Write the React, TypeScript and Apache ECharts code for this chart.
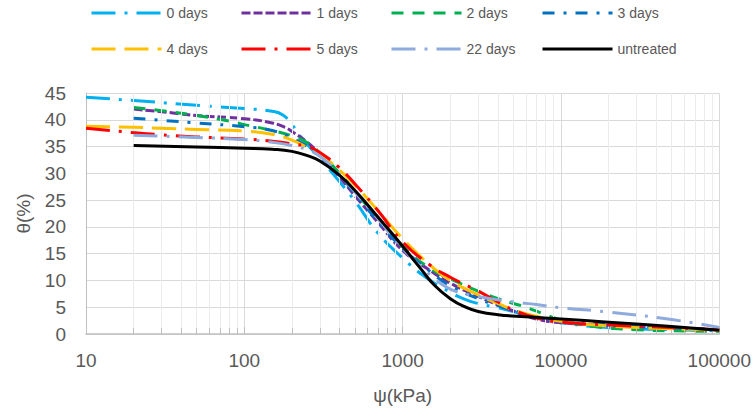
import React, { useEffect, useRef } from "react";
import * as echarts from "echarts";

// ---- data ----
const seriesNames = ["0 days", "1 days", "2 days", "3 days", "4 days", "5 days", "22 days", "untreated"];
const seriesColors = ["#00B0F0", "#7030A0", "#00B050", "#0070C0", "#FFC000", "#FF0000", "#8FAADC", "#000000"];

const psi0 = [10, 20, 50, 100, 150, 175, 200, 230, 300, 400, 500, 700, 1000, 1400, 2000, 2500, 3000, 4000, 5000, 7000, 10000, 20000, 50000, 100000];
const theta0 = [44.2, 43.6, 42.7, 42.1, 41.6, 40.9, 39.1, 36.6, 32.8, 28.4, 24.8, 18.8, 14.2, 10.6, 7.8, 6.4, 5.7, 4.9, 4.2, 3.1, 2.1, 1.2, 0.8, 0.6];

const psi1 = [20, 30, 50, 100, 150, 180, 200, 250, 300, 400, 500, 700, 1000, 1500, 2000, 3000, 5000, 7000, 10000, 20000, 50000, 100000];
const theta1 = [42.0, 41.5, 40.8, 40.2, 39.4, 38.6, 37.8, 35.8, 33.5, 29.3, 25.8, 20.8, 15.6, 11.8, 9.5, 7.0, 4.3, 2.8, 2.1, 1.6, 1.1, 0.8];

const psi2 = [20, 30, 50, 70, 100, 150, 200, 250, 300, 400, 500, 700, 1000, 1500, 2000, 3000, 4000, 5000, 6000, 8000, 10000, 15000, 30000, 50000, 100000];
const theta2 = [42.3, 41.7, 40.8, 40.1, 39.1, 38.0, 37.0, 35.7, 33.8, 30.0, 26.6, 21.5, 16.3, 12.2, 10.3, 8.0, 6.6, 5.7, 5.0, 3.6, 2.6, 1.5, 0.8, 0.6, 0.5];

const psi3 = [20, 30, 50, 100, 150, 200, 250, 300, 400, 500, 700, 1000, 1500, 2000, 3000, 4000, 5000, 7000, 10000, 20000, 50000, 100000];
const theta3 = [40.3, 39.9, 39.4, 38.7, 38.0, 36.6, 35.0, 33.3, 29.6, 26.2, 21.0, 16.0, 11.6, 9.0, 6.6, 5.3, 4.4, 3.2, 2.4, 1.8, 1.2, 0.9];

const psi4 = [10, 20, 30, 50, 100, 150, 200, 250, 300, 400, 500, 700, 1000, 1500, 2000, 3000, 4000, 5000, 7000, 10000, 20000, 50000, 100000];
const theta4 = [38.8, 38.6, 38.4, 38.2, 37.9, 37.3, 36.2, 34.8, 33.5, 30.6, 27.8, 23.0, 17.8, 12.8, 10.0, 7.3, 5.7, 4.5, 3.3, 2.4, 1.5, 1.0, 0.7];

const psi5 = [10, 20, 30, 50, 100, 150, 200, 250, 300, 400, 500, 700, 1000, 1500, 2000, 3000, 4000, 5000, 7000, 10000, 20000, 50000, 100000];
const theta5 = [38.4, 37.6, 37.2, 36.8, 36.4, 36.0, 35.5, 35.0, 33.9, 31.0, 28.0, 23.0, 17.2, 12.8, 10.6, 8.0, 6.0, 4.5, 3.0, 2.2, 1.7, 1.2, 0.8];

const psi22 = [20, 50, 100, 150, 200, 250, 300, 400, 500, 700, 1000, 1500, 2000, 3000, 5000, 7000, 10000, 20000, 50000, 100000];
const theta22 = [37.1, 36.7, 36.3, 35.8, 35.2, 34.4, 33.2, 29.8, 26.5, 21.5, 16.0, 11.0, 8.4, 7.0, 6.0, 5.5, 4.9, 4.1, 2.7, 1.2];

const psiU = [20, 50, 100, 150, 200, 250, 300, 400, 500, 700, 1000, 1300, 1600, 2000, 2500, 3000, 4000, 6000, 10000, 20000, 50000, 100000];
const thetaU = [35.2, 34.9, 34.7, 34.5, 34.1, 33.3, 32.3, 29.6, 26.8, 21.8, 16.4, 12.2, 9.0, 6.6, 5.0, 4.2, 3.6, 3.2, 2.8, 2.2, 1.4, 0.7];

const psiList = [psi0, psi1, psi2, psi3, psi4, psi5, psi22, psiU];
const thetaList = [theta0, theta1, theta2, theta3, theta4, theta5, theta22, thetaU];

// x axis: log, decades; minor grid positions inside each decade
const xMin = 10;
const xMax = 100000;
const minorMultipliers = [2, 3, 4, 5, 6, 7, 8, 9];
const decadeStarts = [10, 100, 1000, 10000];
const yMin = 0;
const yMax = 45;
const yStep = 5;

// ---- styles ----
const dashPatterns: any[] = [
  [24, 9, 3, 9],
  [9, 3],
  [12, 9],
  [12, 9, 3, 9],
  [24, 9],
  [24, 9, 3, 9],
  [24, 9, 3, 9],
  "solid",
];
const legendLefts = [90, 240, 390, 541];
const legendTops = [6, 42];
const textColor = "#595959";
const font = "Liberation Sans";

export default function App() {
  const ref = useRef<HTMLDivElement>(null);

  useEffect(() => {
    document.body.style.margin = "0";
    if (!ref.current) return;
    const chart = echarts.init(ref.current, undefined, { renderer: "svg" });

    const minorValues: number[] = [];
    decadeStarts.forEach((d) => minorMultipliers.forEach((m) => minorValues.push(d * m)));

    const gridSeries: any = {
      type: "line",
      name: "__grid",
      data: [],
      silent: true,
      z: 1,
      markLine: {
        silent: true,
        symbol: ["none", "none"],
        label: { show: false },
        animation: false,
        lineStyle: { color: "#EBEBEB", type: "solid", width: 1 },
        data: minorValues.map((v) => ({ xAxis: v })),
      },
    };
    const tickSeries: any = {
      type: "line",
      name: "__ticks",
      data: [],
      silent: true,
      z: 1,
      markLine: {
        silent: true,
        symbol: ["none", "none"],
        label: { show: false },
        animation: false,
        lineStyle: { color: "#BFBFBF", type: "solid", width: 1 },
        data: minorValues.map((v) => [{ coord: [v, 0] }, { coord: [v, 1.1] }]),
      },
    };

    const dataSeries = seriesNames.map((name, i) => ({
      type: "line",
      name,
      data: psiList[i].map((p, j) => [p, thetaList[i][j]]),
      smooth: 0.5,
      symbol: "none",
      z: 2 + i,
      lineStyle: {
        color: seriesColors[i],
        width: 3,
        type: dashPatterns[i],
        cap: "butt",
        join: "round",
      },
      itemStyle: { color: seriesColors[i] },
    }));

    const legends = seriesNames.map((name, i) => ({
      data: [name],
      left: legendLefts[i % 4],
      top: legendTops[Math.floor(i / 4)],
      padding: 0,
      itemWidth: 70,
      itemHeight: 14,
      selectedMode: false,
      itemStyle: { opacity: 0 },
      lineStyle: { width: 3 },
      textStyle: { fontSize: 14, color: textColor, fontFamily: font },
    }));

    chart.setOption({
      animation: false,
      textStyle: { fontFamily: font },
      legend: legends,
      grid: { left: 86, right: 34, top: 93, bottom: 74, containLabel: false },
      xAxis: {
        type: "log",
        logBase: 10,
        min: xMin,
        max: xMax,
        name: "ψ(kPa)",
        nameLocation: "middle",
        nameGap: 52,
        nameTextStyle: { fontSize: 19, color: textColor, fontFamily: font },
        axisLine: { show: true, onZero: false, lineStyle: { color: "#BFBFBF", width: 1.5 } },
        axisTick: { show: true, inside: true, length: 7, lineStyle: { color: "#BFBFBF" } },
        axisLabel: {
          fontSize: 19,
          color: textColor,
          fontFamily: font,
          margin: 17,
          formatter: (v: number) => String(Math.round(v)),
        },
        splitLine: { show: true, lineStyle: { color: "#D9D9D9", width: 1 } },
      },
      yAxis: {
        type: "value",
        min: yMin,
        max: yMax,
        interval: yStep,
        name: "θ(%)",
        nameLocation: "middle",
        nameRotate: 90,
        nameGap: 53,
        nameTextStyle: { fontSize: 19, color: textColor, fontFamily: font },
        axisLine: { show: true, lineStyle: { color: "#BFBFBF", width: 1 } },
        axisTick: { show: false },
        axisLabel: { fontSize: 19, color: textColor, fontFamily: font, margin: 20 },
        splitLine: { show: true, lineStyle: { color: "#D9D9D9", width: 1 } },
      },
      series: [gridSeries, tickSeries, ...dataSeries],
    });

    return () => chart.dispose();
  }, []);

  return <div ref={ref} style={{ width: 754, height: 410 }} />;
}
